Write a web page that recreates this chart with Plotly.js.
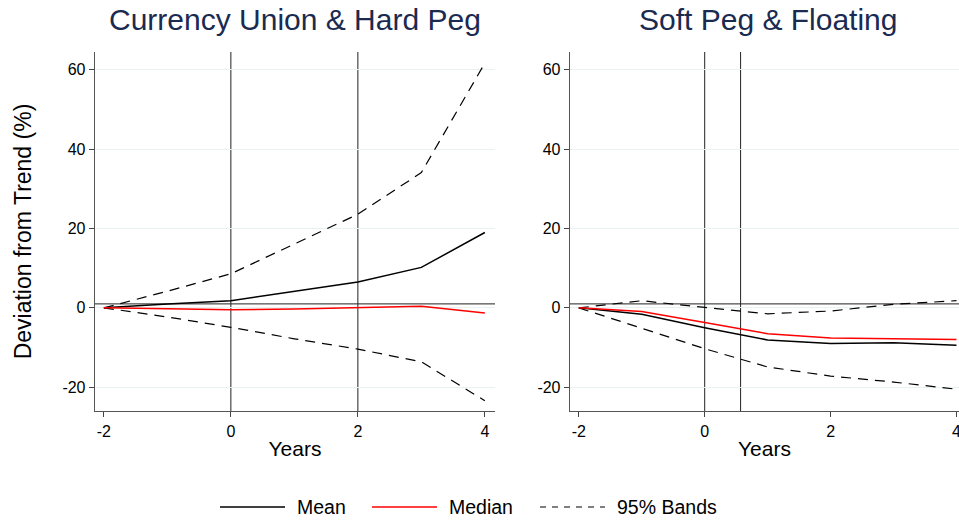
<!DOCTYPE html>
<html>
<head>
<meta charset="utf-8">
<script src="https://cdn.plot.ly/plotly-3.0.1.min.js"></script>
<style>html,body{margin:0;padding:0;background:#fff;} #chart{width:959px;height:521px;}</style>
</head>
<body>
<div id="chart"></div>
<script>
// ---- data ----
var years = [-2, -1, 0, 1, 2, 3, 4];

var cuMean   = [0, 1.0, 1.8, 4.1, 6.5, 10.2, 19.0];
var cuMedian = [0, -0.3, -0.5, -0.3, 0.0, 0.4, -1.3];
var cuUpper  = [0, 4.2, 8.6, 16.0, 23.6, 34.1, 61.7];
var cuLower  = [0, -2.3, -4.9, -7.8, -10.4, -13.6, -23.4];

var spMean   = [0, -1.6, -5.0, -8.1, -9.0, -8.8, -9.4];
var spMedian = [0, -0.9, -3.7, -6.5, -7.6, -7.8, -8.0];
var spUpper  = [0, 1.8, 0.1, -1.5, -0.8, 0.9, 1.8];
var spLower  = [0, -5.1, -10.3, -14.9, -17.2, -18.7, -20.5];

var cuEventLines = [0, 2];
var spEventLines = [0, 0.57];
var refLevel = 1;

var panelTitles = ["Currency Union &amp; Hard Peg", "Soft Peg &amp; Floating"];
var legendLabels = ["Mean", "Median", "95% Bands"];
var yTicks = [-20, 0, 20, 40, 60];
var xTicks = [-2, 0, 2, 4];

// ---- styles ----
var FONT = "Liberation Sans, Arial, Helvetica, sans-serif";
var meanStyle = {color: "#000000", width: 1.5};
var medianStyle = {color: "#ff0000", width: 1.5};
var bandStyle = {color: "#000000", width: 1.2, dash: "10px,7px"};

function tr(x, y, line, xa, ya) {
  return {x: x, y: y, mode: "lines", line: line, xaxis: xa, yaxis: ya,
          showlegend: false, hoverinfo: "skip", cliponaxis: false};
}

var traces = [
  tr(years, cuUpper, bandStyle, "x", "y"),
  tr(years, cuLower, bandStyle, "x", "y"),
  tr(years, cuMean, meanStyle, "x", "y"),
  tr(years, cuMedian, medianStyle, "x", "y"),
  tr(years, spUpper, bandStyle, "x2", "y2"),
  tr(years, spLower, bandStyle, "x2", "y2"),
  tr(years, spMean, meanStyle, "x2", "y2"),
  tr(years, spMedian, medianStyle, "x2", "y2")
];

var shapes = [];
cuEventLines.forEach(function (v) {
  shapes.push({type: "line", xref: "x", yref: "y domain", x0: v, x1: v, y0: 0, y1: 1,
               line: {color: "#222", width: 1}, layer: "below"});
});
spEventLines.forEach(function (v) {
  shapes.push({type: "line", xref: "x2", yref: "y2 domain", x0: v, x1: v, y0: 0, y1: 1,
               line: {color: "#222", width: 1}, layer: "below"});
});
shapes.push({type: "line", xref: "x domain", yref: "y", x0: 0, x1: 1, y0: refLevel, y1: refLevel,
             line: {color: "#222", width: 1}, layer: "below"});
shapes.push({type: "line", xref: "x2 domain", yref: "y2", x0: 0, x1: 1, y0: refLevel, y1: refLevel,
             line: {color: "#222", width: 1}, layer: "below"});

// custom legend (line samples + labels)
var legStyles = [meanStyle, medianStyle, bandStyle];
var legX = [220, 372, 540];
var legY = 1 - 507 / 521;
var annotations = [];
legStyles.forEach(function (s, i) {
  var l = {color: s.color, width: s.width};
  if (s.dash) l.dash = "6px,6px";
  shapes.push({type: "line", xref: "paper", yref: "paper",
               x0: legX[i] / 959, x1: (legX[i] + 65) / 959, y0: legY, y1: legY, line: l});
  annotations.push({xref: "paper", yref: "paper", x: (legX[i] + 75) / 959, y: legY,
                    xanchor: "left", yanchor: "middle", showarrow: false,
                    text: legendLabels[i], font: {family: FONT, size: 19.5, color: "#000"}});
});

annotations.push({xref: "paper", yref: "paper", x: 295 / 959, y: 1 - 20 / 521,
                  xanchor: "center", yanchor: "middle", showarrow: false,
                  text: panelTitles[0], font: {family: FONT, size: 30, color: "#1a2a50"}});
annotations.push({xref: "paper", yref: "paper", x: 768 / 959, y: 1 - 20 / 521,
                  xanchor: "center", yanchor: "middle", showarrow: false,
                  text: panelTitles[1], font: {family: FONT, size: 30, color: "#1a2a50"}});

var yDom = [(521 - 411) / 521, (521 - 52) / 521];

function xAxis(domain, range, anchor) {
  return {domain: domain, range: range, anchor: anchor, tickvals: xTicks,
          ticktext: xTicks.map(String), ticks: "outside", ticklen: 5, tickcolor: "#444",
          ticklabeloverflow: "allow",
          showline: true, linecolor: "#555", linewidth: 1.3, showgrid: false, zeroline: false,
          tickfont: {family: FONT, size: 16, color: "#000"},
          title: {text: "Years", font: {family: FONT, size: 21, color: "#000"}, standoff: 2},
          fixedrange: true};
}
function yAxis(anchor, withTitle) {
  var a = {domain: yDom, range: [-26, 64.5], anchor: anchor, tickvals: yTicks,
           ticktext: yTicks.map(String), ticks: "outside", ticklen: 5, tickcolor: "#444",
           showline: true, linecolor: "#555", linewidth: 1.3, showgrid: true,
           gridcolor: "#e9f1f3", gridwidth: 1, zeroline: false,
           tickfont: {family: FONT, size: 16, color: "#000"}, fixedrange: true};
  if (withTitle) a.title = {text: "Deviation from Trend (%)", font: {family: FONT, size: 23, color: "#000"}, standoff: 24};
  return a;
}

var layout = {
  width: 959, height: 521,
  margin: {l: 0, r: 0, t: 0, b: 0},
  paper_bgcolor: "#ffffff", plot_bgcolor: "#ffffff",
  showlegend: false,
  xaxis: xAxis([95 / 959, 495 / 959], [-2.14, 4.16], "y"),
  yaxis: yAxis("x", true),
  xaxis2: xAxis([570 / 959, 1], [-2.14, 4.04], "y2"),
  yaxis2: yAxis("x2", false),
  shapes: shapes,
  annotations: annotations
};

Plotly.newPlot("chart", traces, layout, {displayModeBar: false, staticPlot: true});
</script>
</body>
</html>
